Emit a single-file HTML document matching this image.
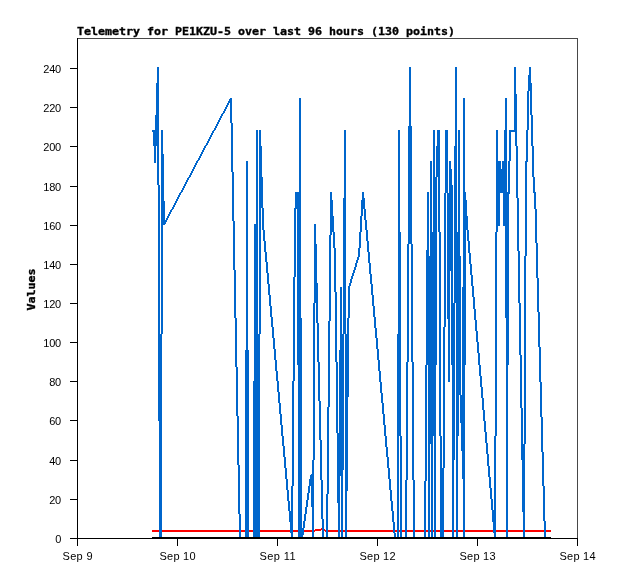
<!DOCTYPE html>
<html><head><meta charset="utf-8"><title>Telemetry for PE1KZU-5</title>
<style>
html,body{margin:0;padding:0;background:#fff}
body{width:618px;height:579px;overflow:hidden}
svg{display:block}
text{fill:#000}
.t{font-family:"DejaVu Sans Mono","Liberation Mono",monospace;font-size:11px;font-weight:bold;stroke:#000;stroke-width:0.35px}
.l{font-family:"Liberation Sans","DejaVu Sans",sans-serif;font-size:11px}
</style></head><body>
<svg width="618" height="579" viewBox="0 0 618 579" shape-rendering="crispEdges">
<rect width="618" height="579" fill="#fff"/>

<rect x="77" y="38" width="501" height="1" fill="#484848"/>
<rect x="577" y="38" width="1" height="501" fill="#484848"/>
<rect x="77" y="38" width="1" height="501" fill="#000"/>
<rect x="77" y="538" width="501" height="1" fill="#000"/>
<rect x="70" y="538" width="7" height="1" fill="#000"/>
<text class="l" x="55.2" y="543" textLength="6" lengthAdjust="spacing">0</text>
<rect x="70" y="499" width="7" height="1" fill="#000"/>
<text class="l" x="49.2" y="504" textLength="12" lengthAdjust="spacing">20</text>
<rect x="70" y="460" width="7" height="1" fill="#000"/>
<text class="l" x="49.2" y="465" textLength="12" lengthAdjust="spacing">40</text>
<rect x="70" y="420" width="7" height="1" fill="#000"/>
<text class="l" x="49.2" y="425" textLength="12" lengthAdjust="spacing">60</text>
<rect x="70" y="381" width="7" height="1" fill="#000"/>
<text class="l" x="49.2" y="386" textLength="12" lengthAdjust="spacing">80</text>
<rect x="70" y="342" width="7" height="1" fill="#000"/>
<text class="l" x="43.2" y="347" textLength="18" lengthAdjust="spacing">100</text>
<rect x="70" y="303" width="7" height="1" fill="#000"/>
<text class="l" x="43.2" y="308" textLength="18" lengthAdjust="spacing">120</text>
<rect x="70" y="264" width="7" height="1" fill="#000"/>
<text class="l" x="43.2" y="269" textLength="18" lengthAdjust="spacing">140</text>
<rect x="70" y="225" width="7" height="1" fill="#000"/>
<text class="l" x="43.2" y="230" textLength="18" lengthAdjust="spacing">160</text>
<rect x="70" y="186" width="7" height="1" fill="#000"/>
<text class="l" x="43.2" y="191" textLength="18" lengthAdjust="spacing">180</text>
<rect x="70" y="146" width="7" height="1" fill="#000"/>
<text class="l" x="43.2" y="151" textLength="18" lengthAdjust="spacing">200</text>
<rect x="70" y="107" width="7" height="1" fill="#000"/>
<text class="l" x="43.2" y="112" textLength="18" lengthAdjust="spacing">220</text>
<rect x="70" y="68" width="7" height="1" fill="#000"/>
<text class="l" x="43.2" y="73" textLength="18" lengthAdjust="spacing">240</text>
<rect x="77" y="538" width="1" height="8" fill="#000"/>
<text class="l" x="62.5" y="560" textLength="30" lengthAdjust="spacing">Sep 9</text>
<rect x="177" y="538" width="1" height="8" fill="#000"/>
<text class="l" x="159.5" y="560" textLength="36" lengthAdjust="spacing">Sep 10</text>
<rect x="277" y="538" width="1" height="8" fill="#000"/>
<text class="l" x="259.5" y="560" textLength="36" lengthAdjust="spacing">Sep 11</text>
<rect x="377" y="538" width="1" height="8" fill="#000"/>
<text class="l" x="359.5" y="560" textLength="36" lengthAdjust="spacing">Sep 12</text>
<rect x="477" y="538" width="1" height="8" fill="#000"/>
<text class="l" x="459.5" y="560" textLength="36" lengthAdjust="spacing">Sep 13</text>
<rect x="577" y="538" width="1" height="8" fill="#000"/>
<text class="l" x="559.5" y="560" textLength="36" lengthAdjust="spacing">Sep 14</text>
<text class="t" x="77" y="35" textLength="378" lengthAdjust="spacingAndGlyphs">Telemetry for PE1KZU-5 over last 96 hours (130 points)</text>
<text class="t" transform="translate(35,310.5) rotate(-90)" textLength="42" lengthAdjust="spacingAndGlyphs">Values</text>
<g fill="#f00">
<rect x="152" y="530" width="163" height="2"/>
<rect x="315" y="529" width="6" height="2"/>
<rect x="321" y="528" width="2" height="2"/>
<rect x="323" y="529" width="2" height="2"/>
<rect x="325" y="530" width="226" height="2"/>
</g>
<g fill="#0066cc">
<rect x="152" y="130" width="1" height="2"/>
<rect x="153" y="130" width="1" height="16"/>
<rect x="154" y="130" width="1" height="33"/>
<rect x="155" y="115" width="1" height="48"/>
<rect x="156" y="83" width="1" height="63"/>
<rect x="157" y="67" width="1" height="118"/>
<rect x="158" y="67" width="1" height="354"/>
<rect x="159" y="185" width="1" height="354"/>
<rect x="160" y="334" width="1" height="205"/>
<rect x="161" y="130" width="1" height="409"/>
<rect x="162" y="130" width="1" height="204"/>
<rect x="163" y="154" width="1" height="71"/>
<rect x="164" y="201" width="1" height="24"/>
<rect x="165" y="220" width="1" height="4"/>
<rect x="166" y="218" width="1" height="4"/>
<rect x="167" y="216" width="1" height="4"/>
<rect x="168" y="214" width="1" height="4"/>
<rect x="169" y="212" width="1" height="4"/>
<rect x="170" y="210" width="1" height="4"/>
<rect x="171" y="209" width="1" height="3"/>
<rect x="172" y="207" width="1" height="3"/>
<rect x="173" y="205" width="1" height="4"/>
<rect x="174" y="203" width="1" height="4"/>
<rect x="175" y="201" width="1" height="4"/>
<rect x="176" y="199" width="1" height="4"/>
<rect x="177" y="197" width="1" height="4"/>
<rect x="178" y="195" width="1" height="4"/>
<rect x="179" y="193" width="1" height="4"/>
<rect x="180" y="192" width="1" height="3"/>
<rect x="181" y="190" width="1" height="3"/>
<rect x="182" y="188" width="1" height="4"/>
<rect x="183" y="186" width="1" height="4"/>
<rect x="184" y="184" width="1" height="4"/>
<rect x="185" y="182" width="1" height="4"/>
<rect x="186" y="180" width="1" height="4"/>
<rect x="187" y="178" width="1" height="4"/>
<rect x="188" y="177" width="1" height="3"/>
<rect x="189" y="175" width="1" height="3"/>
<rect x="190" y="173" width="1" height="4"/>
<rect x="191" y="171" width="1" height="4"/>
<rect x="192" y="169" width="1" height="4"/>
<rect x="193" y="167" width="1" height="4"/>
<rect x="194" y="165" width="1" height="4"/>
<rect x="195" y="163" width="1" height="4"/>
<rect x="196" y="161" width="1" height="4"/>
<rect x="197" y="160" width="1" height="3"/>
<rect x="198" y="158" width="1" height="3"/>
<rect x="199" y="156" width="1" height="4"/>
<rect x="200" y="154" width="1" height="4"/>
<rect x="201" y="152" width="1" height="4"/>
<rect x="202" y="150" width="1" height="4"/>
<rect x="203" y="148" width="1" height="4"/>
<rect x="204" y="146" width="1" height="4"/>
<rect x="205" y="145" width="1" height="3"/>
<rect x="206" y="143" width="1" height="3"/>
<rect x="207" y="141" width="1" height="4"/>
<rect x="208" y="139" width="1" height="4"/>
<rect x="209" y="137" width="1" height="4"/>
<rect x="210" y="135" width="1" height="4"/>
<rect x="211" y="133" width="1" height="4"/>
<rect x="212" y="131" width="1" height="4"/>
<rect x="213" y="130" width="1" height="3"/>
<rect x="214" y="128" width="1" height="3"/>
<rect x="215" y="126" width="1" height="4"/>
<rect x="216" y="124" width="1" height="4"/>
<rect x="217" y="122" width="1" height="4"/>
<rect x="218" y="120" width="1" height="4"/>
<rect x="219" y="118" width="1" height="4"/>
<rect x="220" y="116" width="1" height="4"/>
<rect x="221" y="114" width="1" height="4"/>
<rect x="222" y="113" width="1" height="3"/>
<rect x="223" y="111" width="1" height="3"/>
<rect x="224" y="109" width="1" height="4"/>
<rect x="225" y="107" width="1" height="4"/>
<rect x="226" y="105" width="1" height="4"/>
<rect x="227" y="103" width="1" height="4"/>
<rect x="228" y="101" width="1" height="4"/>
<rect x="229" y="99" width="1" height="4"/>
<rect x="230" y="98" width="1" height="25"/>
<rect x="231" y="98" width="1" height="74"/>
<rect x="232" y="123" width="1" height="98"/>
<rect x="233" y="172" width="1" height="98"/>
<rect x="234" y="221" width="1" height="97"/>
<rect x="235" y="270" width="1" height="97"/>
<rect x="236" y="318" width="1" height="98"/>
<rect x="237" y="367" width="1" height="98"/>
<rect x="238" y="416" width="1" height="98"/>
<rect x="239" y="465" width="1" height="74"/>
<rect x="240" y="514" width="1" height="25"/>
<rect x="241" y="537" width="4" height="2"/>
<rect x="245" y="350" width="1" height="189"/>
<rect x="246" y="161" width="2" height="378"/>
<rect x="248" y="350" width="1" height="189"/>
<rect x="249" y="537" width="4" height="2"/>
<rect x="253" y="381" width="1" height="158"/>
<rect x="254" y="224" width="2" height="315"/>
<rect x="256" y="130" width="2" height="409"/>
<rect x="258" y="334" width="1" height="205"/>
<rect x="259" y="130" width="1" height="409"/>
<rect x="260" y="130" width="1" height="204"/>
<rect x="261" y="146" width="1" height="62"/>
<rect x="262" y="177" width="1" height="53"/>
<rect x="263" y="208" width="1" height="33"/>
<rect x="264" y="230" width="1" height="22"/>
<rect x="265" y="241" width="1" height="21"/>
<rect x="266" y="252" width="1" height="21"/>
<rect x="267" y="262" width="1" height="22"/>
<rect x="268" y="273" width="1" height="22"/>
<rect x="269" y="284" width="1" height="22"/>
<rect x="270" y="295" width="1" height="22"/>
<rect x="271" y="306" width="1" height="21"/>
<rect x="272" y="317" width="1" height="21"/>
<rect x="273" y="327" width="1" height="22"/>
<rect x="274" y="338" width="1" height="22"/>
<rect x="275" y="349" width="1" height="22"/>
<rect x="276" y="360" width="1" height="21"/>
<rect x="277" y="371" width="1" height="21"/>
<rect x="278" y="381" width="1" height="22"/>
<rect x="279" y="392" width="1" height="22"/>
<rect x="280" y="403" width="1" height="22"/>
<rect x="281" y="414" width="1" height="22"/>
<rect x="282" y="425" width="1" height="21"/>
<rect x="283" y="436" width="1" height="21"/>
<rect x="284" y="446" width="1" height="22"/>
<rect x="285" y="457" width="1" height="22"/>
<rect x="286" y="468" width="1" height="22"/>
<rect x="287" y="479" width="1" height="22"/>
<rect x="288" y="490" width="1" height="21"/>
<rect x="289" y="501" width="1" height="21"/>
<rect x="290" y="511" width="1" height="22"/>
<rect x="291" y="486" width="1" height="53"/>
<rect x="292" y="381" width="1" height="158"/>
<rect x="293" y="277" width="1" height="209"/>
<rect x="294" y="208" width="1" height="173"/>
<rect x="295" y="192" width="1" height="85"/>
<rect x="296" y="192" width="1" height="17"/>
<rect x="297" y="192" width="1" height="173"/>
<rect x="298" y="192" width="1" height="347"/>
<rect x="299" y="98" width="2" height="441"/>
<rect x="301" y="318" width="1" height="221"/>
<rect x="302" y="528" width="1" height="11"/>
<rect x="303" y="521" width="1" height="14"/>
<rect x="304" y="514" width="1" height="14"/>
<rect x="305" y="507" width="1" height="14"/>
<rect x="306" y="500" width="1" height="14"/>
<rect x="307" y="493" width="1" height="14"/>
<rect x="308" y="486" width="1" height="14"/>
<rect x="309" y="479" width="1" height="14"/>
<rect x="310" y="475" width="1" height="11"/>
<rect x="311" y="474" width="1" height="33"/>
<rect x="312" y="460" width="1" height="79"/>
<rect x="313" y="303" width="1" height="236"/>
<rect x="314" y="224" width="1" height="236"/>
<rect x="315" y="224" width="1" height="79"/>
<rect x="316" y="244" width="1" height="79"/>
<rect x="317" y="283" width="1" height="79"/>
<rect x="318" y="323" width="1" height="78"/>
<rect x="319" y="362" width="1" height="78"/>
<rect x="320" y="401" width="1" height="79"/>
<rect x="321" y="440" width="1" height="79"/>
<rect x="322" y="480" width="1" height="59"/>
<rect x="323" y="519" width="1" height="20"/>
<rect x="324" y="537" width="2" height="2"/>
<rect x="326" y="494" width="1" height="45"/>
<rect x="327" y="407" width="1" height="132"/>
<rect x="328" y="321" width="1" height="173"/>
<rect x="329" y="235" width="1" height="172"/>
<rect x="330" y="192" width="1" height="129"/>
<rect x="331" y="192" width="1" height="43"/>
<rect x="332" y="200" width="1" height="32"/>
<rect x="333" y="216" width="1" height="32"/>
<rect x="334" y="232" width="1" height="60"/>
<rect x="335" y="248" width="1" height="114"/>
<rect x="336" y="292" width="1" height="141"/>
<rect x="337" y="362" width="1" height="141"/>
<rect x="338" y="433" width="1" height="106"/>
<rect x="339" y="350" width="1" height="189"/>
<rect x="340" y="287" width="1" height="189"/>
<rect x="341" y="287" width="1" height="252"/>
<rect x="342" y="334" width="1" height="205"/>
<rect x="343" y="198" width="1" height="272"/>
<rect x="344" y="130" width="1" height="204"/>
<rect x="345" y="130" width="1" height="409"/>
<rect x="346" y="334" width="1" height="205"/>
<rect x="347" y="318" width="1" height="173"/>
<rect x="348" y="286" width="1" height="111"/>
<rect x="349" y="283" width="1" height="35"/>
<rect x="350" y="279" width="1" height="7"/>
<rect x="351" y="276" width="1" height="7"/>
<rect x="352" y="273" width="1" height="6"/>
<rect x="353" y="270" width="1" height="6"/>
<rect x="354" y="267" width="1" height="6"/>
<rect x="355" y="263" width="1" height="7"/>
<rect x="356" y="260" width="1" height="7"/>
<rect x="357" y="257" width="1" height="6"/>
<rect x="358" y="248" width="1" height="12"/>
<rect x="359" y="232" width="1" height="25"/>
<rect x="360" y="216" width="1" height="32"/>
<rect x="361" y="200" width="1" height="32"/>
<rect x="362" y="192" width="1" height="24"/>
<rect x="363" y="192" width="1" height="17"/>
<rect x="364" y="198" width="1" height="22"/>
<rect x="365" y="209" width="1" height="21"/>
<rect x="366" y="220" width="1" height="21"/>
<rect x="367" y="230" width="1" height="22"/>
<rect x="368" y="241" width="1" height="22"/>
<rect x="369" y="252" width="1" height="22"/>
<rect x="370" y="263" width="1" height="21"/>
<rect x="371" y="274" width="1" height="21"/>
<rect x="372" y="284" width="1" height="22"/>
<rect x="373" y="295" width="1" height="22"/>
<rect x="374" y="306" width="1" height="22"/>
<rect x="375" y="317" width="1" height="21"/>
<rect x="376" y="328" width="1" height="21"/>
<rect x="377" y="338" width="1" height="22"/>
<rect x="378" y="349" width="1" height="22"/>
<rect x="379" y="360" width="1" height="22"/>
<rect x="380" y="371" width="1" height="22"/>
<rect x="381" y="382" width="1" height="21"/>
<rect x="382" y="393" width="1" height="21"/>
<rect x="383" y="403" width="1" height="22"/>
<rect x="384" y="414" width="1" height="22"/>
<rect x="385" y="425" width="1" height="22"/>
<rect x="386" y="436" width="1" height="21"/>
<rect x="387" y="447" width="1" height="21"/>
<rect x="388" y="457" width="1" height="22"/>
<rect x="389" y="468" width="1" height="22"/>
<rect x="390" y="479" width="1" height="22"/>
<rect x="391" y="490" width="1" height="21"/>
<rect x="392" y="501" width="1" height="21"/>
<rect x="393" y="511" width="1" height="22"/>
<rect x="394" y="522" width="1" height="17"/>
<rect x="395" y="533" width="1" height="6"/>
<rect x="396" y="537" width="1" height="2"/>
<rect x="397" y="334" width="1" height="205"/>
<rect x="398" y="130" width="1" height="409"/>
<rect x="399" y="130" width="1" height="306"/>
<rect x="400" y="232" width="1" height="307"/>
<rect x="401" y="436" width="1" height="103"/>
<rect x="402" y="537" width="3" height="2"/>
<rect x="405" y="480" width="1" height="59"/>
<rect x="406" y="362" width="1" height="177"/>
<rect x="407" y="244" width="1" height="236"/>
<rect x="408" y="126" width="1" height="236"/>
<rect x="409" y="67" width="2" height="177"/>
<rect x="411" y="126" width="1" height="236"/>
<rect x="412" y="244" width="1" height="236"/>
<rect x="413" y="362" width="1" height="177"/>
<rect x="414" y="480" width="1" height="59"/>
<rect x="415" y="537" width="9" height="2"/>
<rect x="424" y="481" width="1" height="58"/>
<rect x="425" y="365" width="1" height="174"/>
<rect x="426" y="250" width="1" height="231"/>
<rect x="427" y="192" width="1" height="173"/>
<rect x="428" y="192" width="1" height="347"/>
<rect x="429" y="256" width="1" height="283"/>
<rect x="430" y="161" width="1" height="283"/>
<rect x="431" y="161" width="1" height="378"/>
<rect x="432" y="232" width="1" height="307"/>
<rect x="433" y="130" width="1" height="306"/>
<rect x="434" y="130" width="1" height="409"/>
<rect x="435" y="177" width="1" height="362"/>
<rect x="436" y="146" width="1" height="219"/>
<rect x="437" y="130" width="1" height="47"/>
<rect x="438" y="130" width="1" height="102"/>
<rect x="439" y="130" width="1" height="306"/>
<rect x="440" y="232" width="1" height="307"/>
<rect x="441" y="436" width="1" height="103"/>
<rect x="442" y="468" width="1" height="71"/>
<rect x="443" y="327" width="1" height="212"/>
<rect x="444" y="193" width="1" height="275"/>
<rect x="445" y="130" width="1" height="197"/>
<rect x="446" y="130" width="1" height="63"/>
<rect x="447" y="130" width="1" height="189"/>
<rect x="448" y="193" width="1" height="189"/>
<rect x="449" y="161" width="1" height="221"/>
<rect x="450" y="161" width="1" height="110"/>
<rect x="451" y="169" width="1" height="196"/>
<rect x="452" y="185" width="1" height="354"/>
<rect x="453" y="303" width="1" height="236"/>
<rect x="454" y="146" width="1" height="314"/>
<rect x="455" y="67" width="1" height="236"/>
<rect x="456" y="67" width="1" height="472"/>
<rect x="457" y="232" width="1" height="307"/>
<rect x="458" y="130" width="1" height="306"/>
<rect x="459" y="130" width="1" height="265"/>
<rect x="460" y="256" width="1" height="167"/>
<rect x="461" y="395" width="1" height="56"/>
<rect x="462" y="287" width="1" height="192"/>
<rect x="463" y="98" width="2" height="441"/>
<rect x="465" y="192" width="1" height="173"/>
<rect x="466" y="200" width="1" height="30"/>
<rect x="467" y="216" width="1" height="25"/>
<rect x="468" y="230" width="1" height="23"/>
<rect x="469" y="241" width="1" height="23"/>
<rect x="470" y="253" width="1" height="22"/>
<rect x="471" y="264" width="1" height="22"/>
<rect x="472" y="275" width="1" height="22"/>
<rect x="473" y="286" width="1" height="23"/>
<rect x="474" y="297" width="1" height="23"/>
<rect x="475" y="309" width="1" height="22"/>
<rect x="476" y="320" width="1" height="22"/>
<rect x="477" y="331" width="1" height="22"/>
<rect x="478" y="342" width="1" height="23"/>
<rect x="479" y="353" width="1" height="23"/>
<rect x="480" y="365" width="1" height="22"/>
<rect x="481" y="376" width="1" height="22"/>
<rect x="482" y="387" width="1" height="23"/>
<rect x="483" y="398" width="1" height="23"/>
<rect x="484" y="410" width="1" height="22"/>
<rect x="485" y="421" width="1" height="22"/>
<rect x="486" y="432" width="1" height="22"/>
<rect x="487" y="443" width="1" height="23"/>
<rect x="488" y="454" width="1" height="23"/>
<rect x="489" y="466" width="1" height="22"/>
<rect x="490" y="477" width="1" height="22"/>
<rect x="491" y="488" width="1" height="22"/>
<rect x="492" y="499" width="1" height="23"/>
<rect x="493" y="510" width="1" height="23"/>
<rect x="494" y="436" width="1" height="103"/>
<rect x="495" y="232" width="1" height="307"/>
<rect x="496" y="130" width="1" height="306"/>
<rect x="497" y="130" width="1" height="102"/>
<rect x="498" y="161" width="2" height="65"/>
<rect x="500" y="161" width="1" height="32"/>
<rect x="501" y="169" width="1" height="24"/>
<rect x="502" y="161" width="1" height="32"/>
<rect x="503" y="161" width="1" height="65"/>
<rect x="504" y="130" width="1" height="96"/>
<rect x="505" y="98" width="1" height="220"/>
<rect x="506" y="98" width="1" height="441"/>
<rect x="507" y="192" width="1" height="347"/>
<rect x="508" y="161" width="1" height="204"/>
<rect x="509" y="130" width="1" height="64"/>
<rect x="510" y="130" width="1" height="31"/>
<rect x="511" y="130" width="3" height="2"/>
<rect x="514" y="67" width="1" height="65"/>
<rect x="515" y="67" width="1" height="79"/>
<rect x="516" y="94" width="1" height="104"/>
<rect x="517" y="146" width="1" height="105"/>
<rect x="518" y="198" width="1" height="105"/>
<rect x="519" y="251" width="1" height="104"/>
<rect x="520" y="303" width="1" height="105"/>
<rect x="521" y="355" width="1" height="105"/>
<rect x="522" y="408" width="1" height="104"/>
<rect x="523" y="444" width="1" height="95"/>
<rect x="524" y="256" width="1" height="283"/>
<rect x="525" y="161" width="1" height="283"/>
<rect x="526" y="130" width="1" height="126"/>
<rect x="527" y="91" width="1" height="71"/>
<rect x="528" y="75" width="1" height="55"/>
<rect x="529" y="67" width="1" height="24"/>
<rect x="530" y="67" width="1" height="48"/>
<rect x="531" y="83" width="1" height="63"/>
<rect x="532" y="115" width="1" height="62"/>
<rect x="533" y="146" width="1" height="47"/>
<rect x="534" y="177" width="1" height="32"/>
<rect x="535" y="192" width="1" height="51"/>
<rect x="536" y="209" width="1" height="69"/>
<rect x="537" y="243" width="1" height="69"/>
<rect x="538" y="278" width="1" height="69"/>
<rect x="539" y="312" width="1" height="70"/>
<rect x="540" y="347" width="1" height="70"/>
<rect x="541" y="382" width="1" height="70"/>
<rect x="542" y="417" width="1" height="69"/>
<rect x="543" y="452" width="1" height="69"/>
<rect x="544" y="486" width="1" height="53"/>
<rect x="545" y="521" width="1" height="18"/>
</g>
<rect x="152" y="537" width="399" height="2" fill="#000"/>
</svg></body></html>
